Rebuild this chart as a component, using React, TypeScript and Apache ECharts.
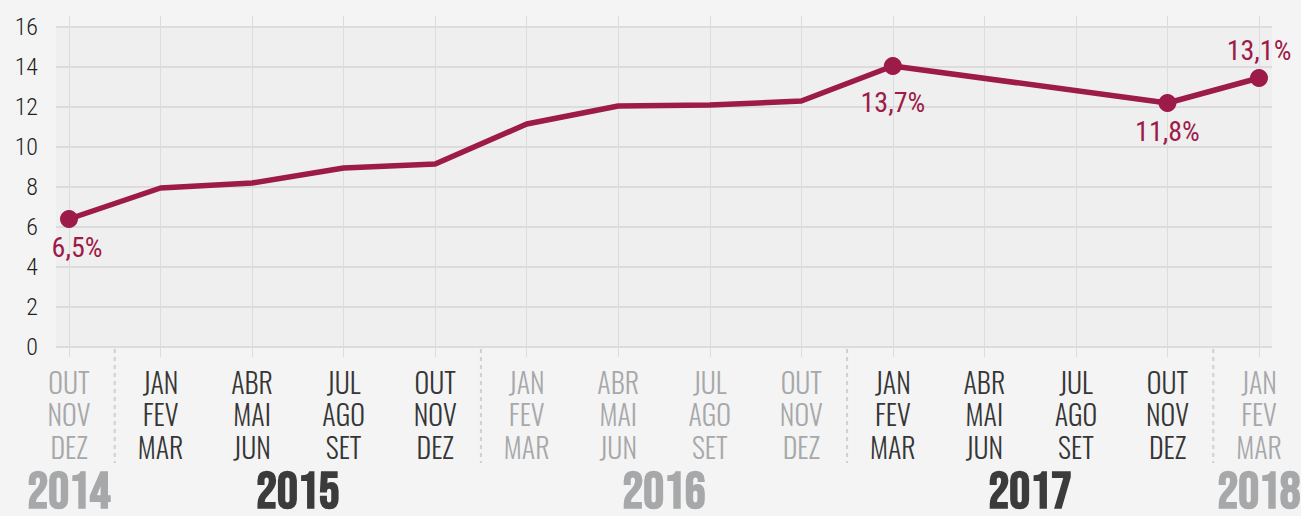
import React, { useEffect, useRef } from "react";
import * as echarts from "echarts";

// ---- data ----
const quarterLabels = [
  "OUT\nNOV\nDEZ",
  "JAN\nFEV\nMAR", "ABR\nMAI\nJUN", "JUL\nAGO\nSET", "OUT\nNOV\nDEZ",
  "JAN\nFEV\nMAR", "ABR\nMAI\nJUN", "JUL\nAGO\nSET", "OUT\nNOV\nDEZ",
  "JAN\nFEV\nMAR", "ABR\nMAI\nJUN", "JUL\nAGO\nSET", "OUT\nNOV\nDEZ",
  "JAN\nFEV\nMAR",
];
const quarterYear = ["2014", "2015", "2015", "2015", "2015", "2016", "2016", "2016", "2016", "2017", "2017", "2017", "2017", "2018"];
const years = ["2014", "2015", "2016", "2017", "2018"];
const highlightedYears = ["2015", "2017"];
const rate: (number | null)[] = [6.4, 7.95, 8.2, 8.95, 9.15, 11.15, 12.05, 12.1, 12.3, 14.05, null, null, 12.2, 13.45];
const rateLabels = ["6,5%", "", "", "", "", "", "", "", "", "13,7%", "", "", "11,8%", "13,1%"];
const labelSide = ["bottom", "", "", "", "", "", "", "", "", "bottom", "", "", "bottom", "top"];
const yMin = 0;
const yMax = 16;
const yStep = 2;

const COND = "'Roboto Condensed', 'Open Sans Condensed', sans-serif";
const MONTH = "Oswald, 'Bebas Neue', 'Roboto Condensed', sans-serif";
const BEBAS = "'Bebas Neue', Oswald, 'Roboto Condensed', sans-serif";
const WINE = "#9d1b48";
const DARK = "#363636";
const GREY = "#a7a8aa";
const GRID = "#dcdcdc";

export default function App() {
  const ref = useRef<HTMLDivElement>(null);
  useEffect(() => {
    if (!ref.current) return;
    const chart = echarts.init(ref.current, undefined, { renderer: "svg" });
    const seriesData = rate.map((v, i) => ({
      value: v,
      symbolSize: rateLabels[i] ? 18 : 0,
      label: {
        show: !!rateLabels[i],
        formatter: rateLabels[i],
        position: labelSide[i] || "bottom",
        distance: i === 9 ? 13 : 5,
        offset: i === 0 ? [8, 0] : [0, 0],
      },
    }));
    chart.setOption({
      animation: false,
      backgroundColor: "#f4f4f4",
      grid: [
        { left: 69, right: 42, top: 27, bottom: 169 },
        { left: 56, right: 29, top: 27, bottom: 169, show: true, backgroundColor: "#efefef", borderWidth: 0, z: 0 },
      ],
      xAxis: [
        {
          type: "category",
          gridIndex: 0,
          data: quarterLabels,
          boundaryGap: false,
          axisLine: { show: false },
          axisTick: { show: true, length: 10, lineStyle: { color: GRID, width: 1 } },
          splitLine: { show: true, lineStyle: { color: GRID, width: 1 } },
          axisLabel: {
            interval: 0,
            margin: 18,
            fontFamily: MONTH,
            fontWeight: 300,
            fontSize: 28,
            lineHeight: 32.5,
            color: (_v: any, i: number) => (highlightedYears.includes(quarterYear[i]) ? DARK : GREY),
          },
        },
        {
          type: "category",
          gridIndex: 0,
          position: "top",
          data: quarterLabels,
          boundaryGap: false,
          axisLine: { show: false },
          axisTick: { show: true, length: 11, lineStyle: { color: GRID, width: 1 } },
          splitLine: { show: false },
          axisLabel: { show: false },
        },
        { type: "value", gridIndex: 1, show: false, min: 0, max: 1 },
      ],
      yAxis: [
        {
          type: "value",
          gridIndex: 0,
          min: yMin,
          max: yMax,
          interval: yStep,
          axisLabel: { show: false },
          axisLine: { show: false },
          axisTick: { show: false },
          splitLine: { show: false },
        },
        {
          type: "value",
          gridIndex: 1,
          min: yMin,
          max: yMax,
          interval: yStep,
          axisLine: { show: false },
          axisTick: { show: false },
          splitLine: { show: true, lineStyle: { color: GRID, width: 2 } },
          axisLabel: { margin: 18, fontFamily: COND, fontWeight: 300, fontSize: 24, color: "#222" },
        },
      ],
      series: [
        {
          type: "line",
          xAxisIndex: 0,
          yAxisIndex: 0,
          data: seriesData,
          connectNulls: true,
          symbol: "circle",
          showSymbol: true,
          lineStyle: { color: WINE, width: 5.5 },
          itemStyle: { color: WINE },
          label: { color: WINE, fontFamily: COND, fontWeight: "normal", fontSize: 28 },
          z: 5,
        },
      ],
    });

    // year labels and dashed separators, positioned from the category scale
    const px = (i: number) => chart.convertToPixel({ gridIndex: 0 }, [i, 0]) as number[];
    const axisY = px(0)[1];
    const graphics: any[] = [];
    years.forEach((y) => {
      const idx = quarterYear.map((q, i) => (q === y ? i : -1)).filter((i) => i >= 0);
      const x = (px(idx[0])[0] + px(idx[idx.length - 1])[0]) / 2;
      graphics.push({
        type: "text",
        x,
        y: axisY + 145,
        style: {
          text: y,
          fill: highlightedYears.includes(y) ? "#3b3b3b" : GREY,
          font: `bold 52px ${BEBAS}`,
          lineHeight: 40,
          align: "center",
          verticalAlign: "middle",
        },
      });
    });
    for (let i = 1; i < quarterYear.length; i++) {
      if (quarterYear[i] !== quarterYear[i - 1]) {
        const x = (px(i - 1)[0] + px(i)[0]) / 2;
        graphics.push({
          type: "line",
          shape: { x1: x, y1: axisY + 2, x2: x, y2: axisY + 116 },
          style: { stroke: "#cfcfcf", lineWidth: 2, lineDash: [4, 4] },
        });
      }
    }
    chart.setOption({ graphic: graphics });
    return () => chart.dispose();
  }, []);
  return (
    <div
      ref={ref}
      style={{ position: "fixed", left: 0, top: 0, width: 1301, height: 516 }}
    />
  );
}
